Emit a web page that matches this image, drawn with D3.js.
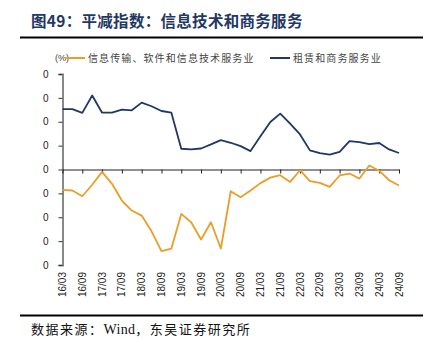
<!DOCTYPE html>
<html>
<head>
<meta charset="utf-8">
<script src="https://cdn.jsdelivr.net/npm/d3@7"></script>
<style>
  body { margin: 0; background: #fff; }
  svg { display: block; }
</style>
</head>
<body>
<svg id="chart" width="433" height="351"></svg>
<script>
// 季度日期（16/03 至 24/09）
const dates = [
  "16/03","16/06","16/09","16/12","17/03","17/06","17/09","17/12",
  "18/03","18/06","18/09","18/12","19/03","19/06","19/09","19/12",
  "20/03","20/06","20/09","20/12","21/03","21/06","21/09","21/12",
  "22/03","22/06","22/09","22/12","23/03","23/06","23/09","23/12",
  "24/03","24/06","24/09"
];
const tickLabels = dates.filter((d, i) => i % 2 === 0);

const seriesNames = ["信息传输、软件和信息技术服务业", "租赁和商务服务业"];

const infoTech = [
  -8.5, -8.8, -11.2, -6.4, -1.0, -6.0, -13.0, -17.2,
  -19.3, -25.9, -34.2, -33.1, -18.6, -22.1, -29.3, -22.1,
  -33.1, -9.1, -11.6, -8.8, -5.7, -3.4, -2.4, -5.2,
  -0.3, -4.9, -5.6, -7.3, -2.5, -1.7, -3.8, 1.7,
  -0.5, -4.5, -6.7
];
const leasing = [
  25.3, 25.3, 23.7, 31.0, 23.8, 23.8, 25.1, 24.8,
  28.0, 26.5, 24.5, 23.8, 8.7, 8.4, 8.8, 10.5,
  12.3, 11.2, 9.8, 7.7, 13.9, 19.9, 23.4, 19.2,
  14.7, 8.0, 6.9, 6.2, 7.4, 11.9, 11.5, 10.6,
  11.1, 8.4, 6.9
];
const yTicks = [40, 30, 20, 10, 0, -10, -20, -30, -40];

const colors = ["#E99E2A", "#1F3864"];

const svg = d3.select("#chart");
const margin = {left: 62.5, right: 34, top: 74, bottom: 86};
const width = 433, height = 351;

const x = d3.scalePoint()
  .domain(dates)
  .range([margin.left, width - margin.right]);

const y = d3.scaleLinear()
  .domain([-40, 40])
  .range([height - margin.bottom, margin.top]);

// 标题
svg.append("text")
  .attr("x", 31)
  .attr("y", 27)
  .attr("font-family", "Noto Sans CJK SC")
  .attr("font-weight", "bold")
  .attr("font-size", 15.5)
  .attr("letter-spacing", 0.3)
  .attr("fill", "#1F3864")
  .text("图49：平减指数：信息技术和商务服务");

svg.append("line")
  .attr("x1", 20).attr("x2", 423)
  .attr("y1", 37.5).attr("y2", 37.5)
  .attr("stroke", "#000").attr("stroke-width", 2);

// 图例
const legend = svg.append("g")
  .attr("font-family", "Noto Sans CJK SC")
  .attr("font-size", 10)
  .attr("fill", "#444");

legend.append("text")
  .attr("x", 55).attr("y", 61)
  .attr("font-family", "Liberation Sans")
  .attr("font-size", 9)
  .text("(%)");

const legendItems = [
  {name: seriesNames[0], x: 65, color: colors[0]},
  {name: seriesNames[1], x: 270, color: colors[1]}
];
legendItems.forEach(d => {
  legend.append("line")
    .attr("x1", d.x).attr("x2", d.x + 20)
    .attr("y1", 58).attr("y2", 58)
    .attr("stroke", d.color).attr("stroke-width", 2);
  legend.append("text")
    .attr("x", d.x + 23).attr("y", 62)
    .attr("letter-spacing", 1.1)
    .text(d.name);
});

// Y 轴
const yAxis = svg.append("g")
  .attr("transform", `translate(${margin.left},0)`)
  .call(d3.axisLeft(y).tickValues(yTicks).tickSize(4)
    .tickFormat(d => String(Math.abs(d)).slice(-1)));
yAxis.select(".domain").attr("stroke", "#888").attr("stroke-width", 2);
yAxis.selectAll(".tick line").attr("stroke", "#333");
yAxis.selectAll(".tick text")
  .attr("x", -14)
  .attr("font-family", "Liberation Sans")
  .attr("font-size", 10)
  .attr("fill", "#222");

// X 轴（零线）
const xAxis = svg.append("g")
  .attr("transform", `translate(0,${y(0)})`)
  .call(d3.axisBottom(x).tickValues(tickLabels).tickSize(4).tickSizeOuter(0));
xAxis.select(".domain").attr("stroke", "#222");
xAxis.selectAll(".tick line").attr("stroke", "#222");
xAxis.selectAll(".tick text").remove();

// X 轴标签（底部，旋转）
svg.append("g")
  .selectAll("text")
  .data(tickLabels)
  .join("text")
  .attr("transform", d => `translate(${x(d) + 3.5},272) rotate(-90)`)
  .attr("text-anchor", "end")
  .attr("font-family", "Liberation Sans")
  .attr("font-size", 10)
  .attr("fill", "#222")
  .text(d => d);

// 折线
const line = d3.line()
  .x((d, i) => x(dates[i]))
  .y(d => y(d));

[infoTech, leasing].forEach((values, i) => {
  svg.append("path")
    .datum(values)
    .attr("fill", "none")
    .attr("stroke", colors[i])
    .attr("stroke-width", 1.8)
    .attr("stroke-linejoin", "round")
    .attr("d", line);
});

// 底部
svg.append("line")
  .attr("x1", 20).attr("x2", 423)
  .attr("y1", 315.5).attr("y2", 315.5)
  .attr("stroke", "#000").attr("stroke-width", 2);

const source = svg.append("text")
  .attr("x", 31)
  .attr("y", 334)
  .attr("font-family", "Noto Sans CJK SC")
  .attr("font-size", 13)
  .attr("letter-spacing", 1.5)
  .attr("fill", "#111");
source.append("tspan").text("数据来源：");
source.append("tspan")
  .attr("font-family", "Liberation Serif")
  .attr("font-size", 14)
  .attr("letter-spacing", 0.3)
  .text("Wind");
source.append("tspan").text("，东吴证券研究所");
</script>
</body>
</html>
